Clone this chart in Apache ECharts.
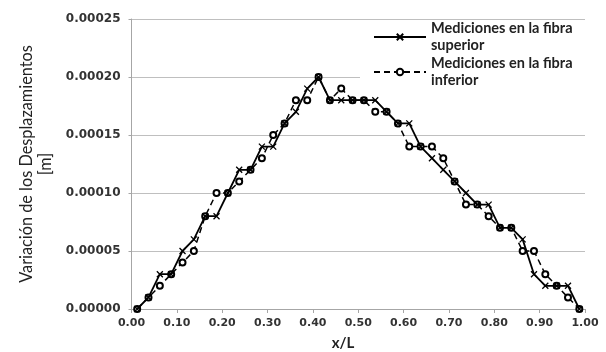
<!DOCTYPE html>
<html>
<head>
<meta charset="utf-8">
<script src="https://cdn.jsdelivr.net/npm/echarts@6/dist/echarts.min.js"></script>
<style>
    html, body { margin: 0; padding: 0; background: #fff; }
    #chart { width: 606px; height: 352px; }
</style>
</head>
<body>
<div id="chart"></div>
<script>
// positions along the beam (x/L)
var x_positions = [0.0125, 0.0375, 0.0625, 0.0875, 0.1125, 0.1375, 0.1625, 0.1875, 0.2125, 0.2375,
    0.2625, 0.2875, 0.3125, 0.3375, 0.3625, 0.3875, 0.4125, 0.4375, 0.4625, 0.4875,
    0.5125, 0.5375, 0.5625, 0.5875, 0.6125, 0.6375, 0.6625, 0.6875, 0.7125, 0.7375,
    0.7625, 0.7875, 0.8125, 0.8375, 0.8625, 0.8875, 0.9125, 0.9375, 0.9625, 0.9875];

// displacement [m]
var fibra_superior = [0.00000, 0.00001, 0.00003, 0.00003, 0.00005, 0.00006, 0.00008, 0.00008, 0.00010, 0.00012,
    0.00012, 0.00014, 0.00014, 0.00016, 0.00017, 0.00019, 0.00020, 0.00018, 0.00018, 0.00018,
    0.00018, 0.00018, 0.00017, 0.00016, 0.00016, 0.00014, 0.00013, 0.00012, 0.00011, 0.00010,
    0.00009, 0.00009, 0.00007, 0.00007, 0.00006, 0.00003, 0.00002, 0.00002, 0.00002, 0.00000];

var fibra_inferior = [0.00000, 0.00001, 0.00002, 0.00003, 0.00004, 0.00005, 0.00008, 0.00010, 0.00010, 0.00011,
    0.00012, 0.00013, 0.00015, 0.00016, 0.00018, 0.00018, 0.00020, 0.00018, 0.00019, 0.00018,
    0.00018, 0.00017, 0.00017, 0.00016, 0.00014, 0.00014, 0.00014, 0.00013, 0.00011, 0.00009,
    0.00009, 0.00008, 0.00007, 0.00007, 0.00005, 0.00005, 0.00003, 0.00002, 0.00001, 0.00000];

var nombre_superior = "Mediciones en la fibra\nsuperior";
var nombre_inferior = "Mediciones en la fibra\ninferior";

function pairs(xs, ys) {
    var out = [];
    for (var i = 0; i < xs.length; i++) {
        out.push([xs[i], ys[i]]);
    }
    return out;
}

var chart = echarts.init(document.getElementById("chart"));

var option = {
    animation: false,
    backgroundColor: "#fff",
    grid: {
        left: 131.5,
        right: 21,
        top: 19,
        bottom: 43,
        containLabel: false
    },
    title: {
        text: "x/L",
        left: 343,
        top: 336,
        textAlign: "center",
        textStyle: { fontFamily: "Lato", fontWeight: "bold", fontSize: 15, color: "#222" },
        padding: 0
    },
    legend: {
        orient: "vertical",
        left: 373,
        top: 11.5,
        padding: 0,
        itemGap: -16,
        itemWidth: 52,
        itemHeight: 8,
        data: [nombre_superior, nombre_inferior],
        textStyle: {
            fontFamily: "Lato",
            fontWeight: "bold",
            fontSize: 14.5,
            color: "#222",
            lineHeight: 17,
            padding: [17, 0, 0, 0]
        }
    },
    graphic: [{
        type: "rect",
        z: 1,
        shape: { x: 360, y: 22, width: 240, height: 108 },
        style: { fill: "#fff" },
        silent: true
    }],
    xAxis: {
        type: "value",
        min: 0,
        max: 1,
        interval: 0.1,
        axisLine: { lineStyle: { color: "#a6a6a6", width: 1 } },
        axisTick: { show: true, length: 4, lineStyle: { color: "#a6a6a6" } },
        splitLine: { show: false },
        axisLabel: {
            margin: 9,
            fontFamily: "DejaVu Sans",
            fontWeight: "bold",
            fontSize: 11,
            color: "#333",
            formatter: function (v) { return v.toFixed(2); }
        }
    },
    yAxis: {
        type: "value",
        min: 0,
        max: 0.00025,
        interval: 0.00005,
        name: "Variación de los Desplazamientos\n[m]",
        nameLocation: "middle",
        nameGap: 57,
        nameTextStyle: {
            fontFamily: "Lato",
            fontSize: 16.3,
            color: "#222",
            lineHeight: 19
        },
        axisLine: { show: true, lineStyle: { color: "#a6a6a6", width: 1 } },
        axisTick: { show: true, length: 3, lineStyle: { color: "#a6a6a6" } },
        splitLine: { show: true, lineStyle: { color: "#bfbfbf", width: 1 } },
        axisLabel: {
            margin: 11,
            fontFamily: "DejaVu Sans",
            fontWeight: "bold",
            fontSize: 12,
            color: "#333",
            formatter: function (v) { return v.toFixed(5); }
        }
    },
    series: [
        {
            name: nombre_superior,
            type: "line",
            z: 4,
            data: pairs(x_positions, fibra_superior),
            symbol: "path://M0,0L10,10M10,0L0,10",
            symbolSize: 6,
            itemStyle: { color: "#000", borderColor: "#000", borderWidth: 1.3 },
            lineStyle: { color: "#000", width: 1.8, type: "solid" }
        },
        {
            name: nombre_inferior,
            type: "line",
            z: 3,
            data: pairs(x_positions, fibra_inferior),
            symbol: "emptyCircle",
            symbolSize: 6,
            itemStyle: { color: "#000", borderColor: "#000", borderWidth: 1.3 },
            lineStyle: { color: "#000", width: 1.5, type: [6, 4] }
        }
    ]
};

chart.setOption(option);
</script>
</body>
</html>
